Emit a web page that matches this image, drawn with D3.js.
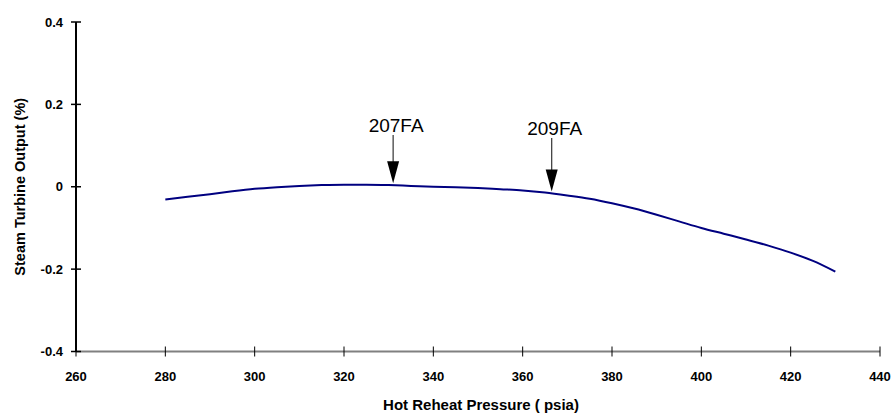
<!DOCTYPE html>
<html>
<head>
<meta charset="utf-8">
<script src="https://cdn.jsdelivr.net/npm/d3@7/dist/d3.min.js"></script>
<style>
  html, body { margin: 0; padding: 0; background: #fff; }
  svg { display: block; font-family: "Liberation Sans", Arial, Helvetica, sans-serif; }
</style>
</head>
<body>
<svg id="chart" width="891" height="413"></svg>
<script>
// Data
const pressure = [280, 285, 290, 295, 300, 305, 310, 315, 320, 325, 330, 335, 340, 345, 350, 355, 360, 365, 370, 375, 380, 385, 390, 395, 400, 405, 410, 415, 420, 425, 430];
const output   = [-0.031, -0.024, -0.018, -0.011, -0.005, -0.001, 0.002, 0.004, 0.005, 0.005, 0.004, 0.002, 0.000, -0.001, -0.003, -0.006, -0.009, -0.014, -0.021, -0.029, -0.040, -0.053, -0.068, -0.084, -0.100, -0.114, -0.128, -0.143, -0.160, -0.180, -0.206];
const xTicks = [260, 280, 300, 320, 340, 360, 380, 400, 420, 440];
const yTicks = [-0.4, -0.2, 0, 0.2, 0.4];
const yTickLabels = ["-0.4", "-0.2", "0", "0.2", "0.4"];
const annotLabels = ["207FA", "209FA"];
const annotX = [331, 366.5];

const svg = d3.select("#chart");
const x = d3.scaleLinear().domain([260, 440]).range([76, 880]);
const y = d3.scaleLinear().domain([-0.4, 0.4]).range([351.5, 22]);

// X axis (gray line, black ticks crossing)
svg.append("line")
  .attr("x1", x(260)).attr("x2", x(440))
  .attr("y1", y(-0.4)).attr("y2", y(-0.4))
  .attr("stroke", "#808080").attr("stroke-width", 2);
svg.selectAll(".xtick").data(xTicks).enter().append("line")
  .attr("x1", d => x(d)).attr("x2", d => x(d))
  .attr("y1", y(-0.4) - 5).attr("y2", y(-0.4) + 5)
  .attr("stroke", "#000").attr("stroke-width", 1);
svg.selectAll(".xlab").data(xTicks).enter().append("text")
  .attr("x", d => x(d)).attr("y", 381)
  .attr("text-anchor", "middle")
  .attr("font-size", 13).attr("font-weight", "bold")
  .text(d => d);

// Y axis (black)
svg.append("line")
  .attr("x1", x(260)).attr("x2", x(260))
  .attr("y1", y(0.4)).attr("y2", y(-0.4))
  .attr("stroke", "#000").attr("stroke-width", 2);
svg.selectAll(".ytick").data(yTicks).enter().append("line")
  .attr("x1", x(260) - 5).attr("x2", x(260) + 5)
  .attr("y1", d => y(d)).attr("y2", d => y(d))
  .attr("stroke", "#000").attr("stroke-width", 1.5);
svg.selectAll(".ylab").data(yTicks).enter().append("text")
  .attr("x", 63).attr("y", d => y(d) + 4.5)
  .attr("text-anchor", "end")
  .attr("font-size", 13).attr("font-weight", "bold")
  .text((d, i) => yTickLabels[i]);

// Axis titles
svg.append("text")
  .attr("x", 481).attr("y", 410)
  .attr("text-anchor", "middle")
  .attr("font-size", 15).attr("font-weight", "bold")
  .text("Hot Reheat Pressure ( psia)");
svg.append("text")
  .attr("transform", `translate(25, ${y(0)}) rotate(-90)`)
  .attr("text-anchor", "middle")
  .attr("font-size", 14.5).attr("font-weight", "bold")
  .text("Steam Turbine Output (%)");

// Curve
const pts = pressure.map((p, i) => [p, output[i]]);
const line = d3.line().x(d => x(d[0])).y(d => y(d[1])).curve(d3.curveMonotoneX);
svg.append("path").datum(pts)
  .attr("d", line)
  .attr("fill", "none")
  .attr("stroke", "#000080")
  .attr("stroke-width", 2);

// Annotations with arrows
const interp = p => {
  for (let i = 0; i < pressure.length - 1; i++) {
    if (p >= pressure[i] && p <= pressure[i + 1]) {
      const t = (p - pressure[i]) / (pressure[i + 1] - pressure[i]);
      return output[i] + t * (output[i + 1] - output[i]);
    }
  }
  return 0;
};
annotX.forEach((p, i) => {
  const ax = x(p);
  const tipY = y(interp(p)) - 2;
  const topY = i === 0 ? 135 : 138;
  svg.append("line")
    .attr("x1", ax).attr("x2", ax)
    .attr("y1", topY).attr("y2", tipY - 20)
    .attr("stroke", "#333").attr("stroke-width", 1.2);
  svg.append("path")
    .attr("d", `M${ax - 6},${tipY - 22} L${ax + 6},${tipY - 22} L${ax},${tipY} Z`)
    .attr("fill", "#000");
  svg.append("text")
    .attr("x", ax + 3).attr("y", i === 0 ? 131.5 : 134.5)
    .attr("text-anchor", "middle")
    .attr("font-size", 19)
    .text(annotLabels[i]);
});
</script>
</body>
</html>
